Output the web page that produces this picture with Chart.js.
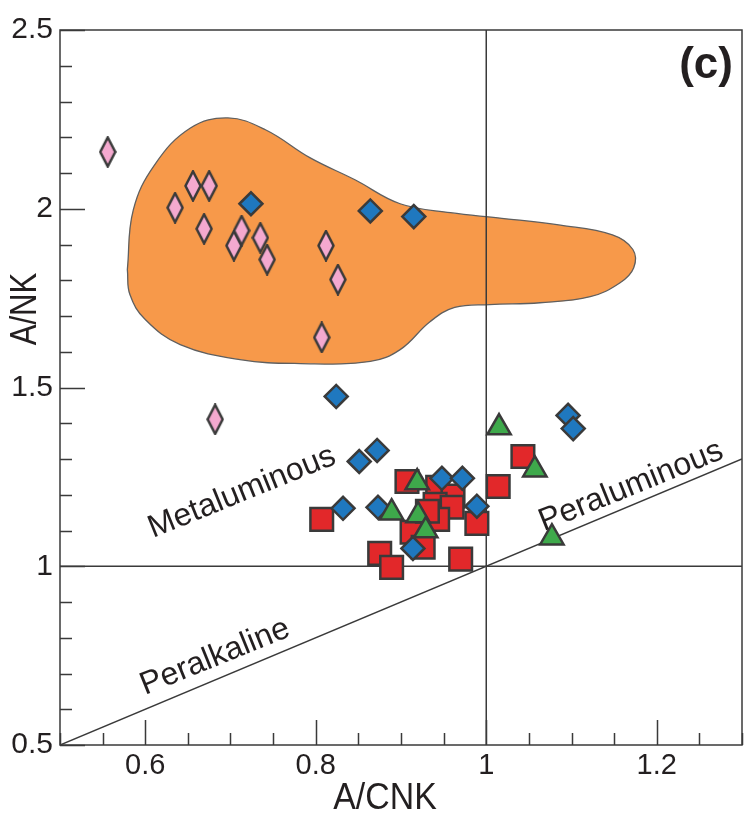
<!DOCTYPE html>
<html>
<head>
<meta charset="utf-8">
<script src="https://cdn.jsdelivr.net/npm/chart.js@4.4.1/dist/chart.umd.min.js"></script>
<style>
  html, body { margin: 0; padding: 0; background: #fff; }
  canvas { display: block; }
</style>
</head>
<body>
<canvas id="chart" width="744" height="819"></canvas>
<script>
// A/CNK vs A/NK (Shand) diagram, panel (c)
const pinkDiamonds = [
  [0.556, 2.159], [0.635, 2.003], [0.656, 2.064], [0.675, 2.064], [0.669, 1.944],
  [0.704, 1.897], [0.713, 1.939], [0.735, 1.919], [0.743, 1.858], [0.812, 1.897],
  [0.826, 1.802], [0.807, 1.640], [0.682, 1.411]
];
const blueDiamonds = [
  [0.724, 2.014], [0.864, 1.994], [0.915, 1.978], [0.824, 1.475], [0.851, 1.293],
  [0.872, 1.324], [0.832, 1.162], [0.873, 1.165], [0.948, 1.246], [0.972, 1.246],
  [0.989, 1.168], [0.914, 1.050], [1.096, 1.422], [1.102, 1.385]
];
const redSquares = [
  [0.907, 1.237], [0.807, 1.131], [0.875, 1.036], [0.889, 0.997], [0.970, 1.020],
  [0.989, 1.120], [1.014, 1.223], [1.043, 1.307], [0.943, 1.221], [0.961, 1.196],
  [0.940, 1.173], [0.960, 1.165], [0.943, 1.131], [0.913, 1.095], [0.926, 1.053],
  [0.931, 1.154]
];
const greenTriangles = [
  [0.919, 1.234], [0.889, 1.150], [0.920, 1.142], [0.929, 1.100], [1.015, 1.388],
  [1.057, 1.270], [1.077, 1.080]
];
// outline of the orange field
const fieldOutline = [
  [0.579, 1.830], [0.586, 1.997], [0.611, 2.123], [0.653, 2.226], [0.697, 2.254],
  [0.741, 2.221], [0.793, 2.143], [0.846, 2.081], [0.899, 2.014], [0.958, 1.989],
  [1.016, 1.974], [1.087, 1.954], [1.148, 1.927], [1.172, 1.886], [1.173, 1.835],
  [1.157, 1.793], [1.122, 1.754], [1.063, 1.737], [1.004, 1.732], [0.963, 1.724],
  [0.934, 1.684], [0.899, 1.606], [0.864, 1.573], [0.782, 1.567], [0.711, 1.578],
  [0.641, 1.620], [0.600, 1.690], [0.582, 1.760], [0.579, 1.830]
];
const xLabels = [0.6, 0.8, 1, 1.2];
const yLabels = [0.5, 1, 1.5, 2, 2.5];

const pts = arr => arr.map(p => ({ x: p[0], y: p[1] }));
const edge = '#3a3a3a';
const ink = '#231f20';

// narrow pink diamond marker
const pinkMarker = document.createElement('canvas');
pinkMarker.width = 18; pinkMarker.height = 32;
(function () {
  const c = pinkMarker.getContext('2d');
  c.beginPath();
  c.moveTo(9, 1.5); c.lineTo(16.5, 16); c.lineTo(9, 30.5); c.lineTo(1.5, 16); c.closePath();
  c.fillStyle = '#f4a9cf'; c.fill();
  c.lineWidth = 2.5; c.strokeStyle = edge; c.stroke();
})();

const isLabel = (v, list) => list.some(l => Math.abs(l - v) < 1e-6);

const inwardTicks = {
  id: 'inwardTicks',
  beforeDatasetsDraw(chart) {
    const { ctx, chartArea: a, scales: { x, y } } = chart;
    ctx.save();
    ctx.strokeStyle = edge;
    ctx.lineWidth = 1.5;
    ctx.beginPath();
    x.ticks.forEach(t => {
      const px = Math.round(x.getPixelForValue(t.value)) + 0.5;
      const len = isLabel(t.value, xLabels) ? 25 : 12;
      ctx.moveTo(px, a.bottom); ctx.lineTo(px, a.bottom - len);
    });
    y.ticks.forEach(t => {
      const py = Math.round(y.getPixelForValue(t.value)) + 0.5;
      const len = isLabel(t.value, yLabels) ? 25 : 12;
      ctx.moveTo(a.left, py); ctx.lineTo(a.left + len, py);
    });
    ctx.stroke();
    ctx.strokeRect(a.left, a.top, a.right - a.left, a.bottom - a.top);
    ctx.restore();
  }
};

const notes = [
  { text: 'Metaluminous', x: 0.7135, y: 1.2067 },
  { text: 'Peraluminous', x: 1.1698, y: 1.2235 },
  { text: 'Peralkaline', x: 0.6818, y: 0.7458 }
];

const annotations = {
  id: 'annotations',
  afterDraw(chart) {
    const { ctx, scales: { x, y } } = chart;
    const ang = Math.atan2(y.getPixelForValue(1.3) - y.getPixelForValue(0.5),
                           x.getPixelForValue(1.3) - x.getPixelForValue(0.5)) + 0.012;
    ctx.save();
    ctx.fillStyle = ink;
    ctx.textAlign = 'center';
    ctx.textBaseline = 'middle';
    ctx.font = '32px "Liberation Sans", Arial, sans-serif';
    notes.forEach(n => {
      ctx.save();
      ctx.translate(x.getPixelForValue(n.x), y.getPixelForValue(n.y));
      ctx.rotate(ang);
      ctx.fillText(n.text, 0, 0);
      ctx.restore();
    });
    ctx.font = 'bold 44px "Liberation Sans", Arial, sans-serif';
    ctx.fillText('(c)', x.getPixelForValue(1.2578), y.getPixelForValue(2.405) + 2);
    // axis titles (the source font is a condensed sans)
    ctx.save();
    ctx.translate(385, 799);
    ctx.scale(0.94, 1);
    ctx.font = '36px "Liberation Sans", Arial, sans-serif';
    ctx.fillText('A/CNK', 0, 0);
    ctx.restore();
    ctx.save();
    ctx.translate(26, 309);
    ctx.rotate(-Math.PI / 2);
    ctx.scale(0.84, 1);
    ctx.font = '37px "Liberation Sans", Arial, sans-serif';
    ctx.fillText('A/NK', 0, 0);
    ctx.restore();
    ctx.restore();
  }
};

new Chart(document.getElementById('chart').getContext('2d'), {
  type: 'scatter',
  data: {
    datasets: [
      {
        label: 'field',
        data: pts(fieldOutline),
        showLine: true,
        fill: 'shape',
        tension: 0.4,
        backgroundColor: '#f7994a',
        borderColor: '#5f5f5f',
        borderWidth: 1.3,
        pointRadius: 0,
        order: 6
      },
      {
        label: 'A/CNK = 1',
        data: [{ x: 1, y: 0.5 }, { x: 1, y: 2.5 }],
        showLine: true,
        borderColor: edge,
        borderWidth: 1.5,
        pointRadius: 0,
        order: 5
      },
      {
        label: 'A/NK = 1',
        data: [{ x: 0.5, y: 1 }, { x: 1.3, y: 1 }],
        showLine: true,
        borderColor: edge,
        borderWidth: 1.5,
        pointRadius: 0,
        order: 5
      },
      {
        label: 'A/NK = A/CNK',
        data: [{ x: 0.5, y: 0.5 }, { x: 1.3, y: 1.3 }],
        showLine: true,
        borderColor: edge,
        borderWidth: 1.5,
        pointRadius: 0,
        order: 5
      },
      {
        label: 'squares',
        data: pts(redSquares),
        pointStyle: 'rect',
        pointRadius: 16,
        backgroundColor: '#e2282a',
        borderColor: edge,
        borderWidth: 2.5,
        order: 4
      },
      {
        label: 'blue diamonds',
        data: pts(blueDiamonds),
        pointStyle: 'rectRot',
        pointRadius: 11.5,
        backgroundColor: '#1f78bf',
        borderColor: edge,
        borderWidth: 2.5,
        order: 3
      },
      {
        label: 'triangles',
        data: pts(greenTriangles),
        pointStyle: 'triangle',
        pointRadius: 13.5,
        backgroundColor: '#3ea94b',
        borderColor: edge,
        borderWidth: 2.5,
        order: 2
      },
      {
        label: 'pink diamonds',
        data: pts(pinkDiamonds),
        pointStyle: pinkMarker,
        order: 1
      }
    ]
  },
  options: {
    responsive: false,
    animation: false,
    devicePixelRatio: 1,
    layout: { autoPadding: false, padding: { top: 30, right: 2, left: 0, bottom: 0 } },
    plugins: { legend: { display: false }, tooltip: { enabled: false } },
    scales: {
      x: {
        type: 'linear',
        min: 0.5,
        max: 1.3,
        grid: { display: false, drawTicks: false },
        border: { display: false },
        afterFit: s => { s.height = 74; s.paddingLeft = 0; s.paddingRight = 0; },
        ticks: {
          stepSize: 0.05,
          autoSkip: false,
          maxRotation: 0,
          padding: 4,
          color: ink,
          font: { family: '"Liberation Sans", Arial, sans-serif', size: 29 },
          callback: v => isLabel(v, xLabels) ? String(Math.round(v * 10) / 10) : ''
        }
      },
      y: {
        type: 'linear',
        min: 0.5,
        max: 2.5,
        grid: { display: false, drawTicks: false },
        border: { display: false },
        afterFit: s => { s.width = 60; s.paddingTop = 0; s.paddingBottom = 0; },
        ticks: {
          stepSize: 0.1,
          autoSkip: false,
          padding: 7,
          color: ink,
          font: { family: '"Liberation Sans", Arial, sans-serif', size: 30 },
          callback: v => isLabel(v, yLabels) ? String(Math.round(v * 10) / 10) : ''
        }
      }
    }
  },
  plugins: [inwardTicks, annotations]
});
</script>
</body>
</html>
